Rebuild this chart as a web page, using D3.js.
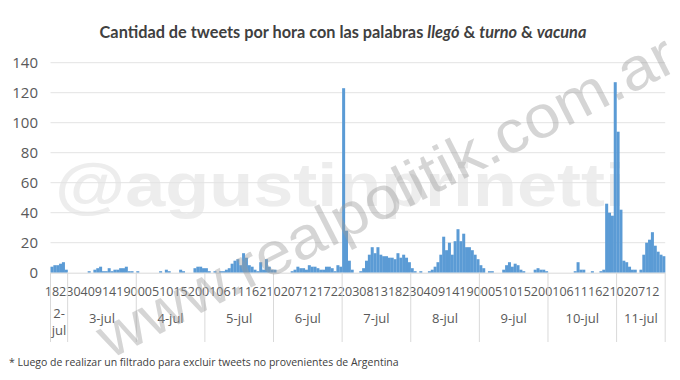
<!DOCTYPE html>
<html>
<head>
<meta charset="utf-8">
<script src="https://cdn.jsdelivr.net/npm/d3@7"></script>
<style>
  html, body { margin: 0; padding: 0; background: #ffffff; }
  svg { display: block; }
</style>
</head>
<body>
<svg id="chart" width="680" height="380"></svg>
<script>
// ---- data (tweets per hour) ----
const dayLabels = ["2-jul","3-jul","4-jul","5-jul","6-jul","7-jul","8-jul","9-jul","10-jul","11-jul"];
const dayFirstHour = [18,0,0,0,0,0,0,0,0,0];
const jul02 = [4,5,5,6,7,2];
const jul03 = [0,0,0,0,0,0,0,1,0,2,3,4,1,1,3,1,2,2,3,3,4,1,1,0];
const jul04 = [1,0,0,0,0,0,0,0,1,0,2,1,0,0,0,2,1,0,0,0,3,4,4,3];
const jul05 = [3,1,0,1,0,1,1,2,3,6,8,9,5,13,10,5,4,2,1,7,2,9,4,2];
const jul06 = [2,0,0,0,0,0,1,2,4,3,3,2,5,4,4,3,2,2,4,4,3,1,5,4];
const jul07 = [123,28,8,2,0,0,1,3,8,12,17,13,17,12,11,11,10,10,9,13,10,12,10,7];
const jul08 = [3,1,0,1,0,0,1,2,4,7,12,24,15,20,12,21,29,21,26,17,17,15,12,9];
const jul09 = [5,3,0,1,1,0,0,0,2,5,7,4,6,5,2,1,0,0,0,2,3,2,2,1];
const jul10 = [0,0,0,0,0,0,0,0,0,1,7,2,2,0,0,1,0,0,1,2,46,40,38,127];
const jul11 = [94,42,8,7,4,2,2,0,2,12,20,22,27,18,14,12,11];
const dayValues = [jul02,jul03,jul04,jul05,jul06,jul07,jul08,jul09,jul10,jul11];
const yTicks = [0,20,40,60,80,100,120,140];
const labelEvery = 5;

const titleParts = [
  {t:"Cantidad de tweets por hora con las palabras ", i:false},
  {t:"llegó", i:true},
  {t:" & ", i:false},
  {t:"turno", i:true},
  {t:" & ", i:false},
  {t:"vacuna", i:true}
];
const footnote = "* Luego de realizar un filtrado para excluir tweets no provenientes de Argentina";

(function () {
// ---- build category table ----
const rows = [];
const dayRanges = [];
dayValues.forEach((vals, d) => {
  const startIdx = rows.length;
  vals.forEach((v, k) => {
    const h = dayFirstHour[d] + k;
    rows.push({key: rows.length, day: d, hour: h, value: v});
  });
  dayRanges.push({label: dayLabels[d], start: startIdx, end: rows.length});
});

const svg = d3.select("#chart");
const pLeft = 50.5, pRight = 665.2, pTop = 62.7, pBottom = 272.7;

const x = d3.scaleBand().domain(rows.map(r => r.key)).range([pLeft, pRight]).padding(0);
const y = d3.scaleLinear().domain([0, 140]).range([pBottom, pTop]);
const step = x.step();
const edge = i => pLeft + i * step;

// watermark (horizontal, behind)
svg.append("text")
  .attr("x", 340).attr("y", 206)
  .attr("text-anchor", "middle")
  .attr("font-family", "Liberation Sans, Arial, sans-serif")
  .attr("font-weight", "bold")
  .attr("font-size", 62)
  .attr("textLength", 570)
  .attr("lengthAdjust", "spacingAndGlyphs")
  .attr("fill", "#ededed")
  .text("@agustinprinetti");

// gridlines
svg.append("g")
  .selectAll("line").data(yTicks.filter(t => t > 0)).join("line")
  .attr("x1", pLeft).attr("x2", pRight)
  .attr("y1", d => y(d)).attr("y2", d => y(d))
  .attr("stroke", "#e3e3e3").attr("stroke-width", 1);

// y axis labels
const yAxis = d3.axisLeft(y).tickValues(yTicks).tickSize(0).tickPadding(0);
const gy = svg.append("g").attr("transform", `translate(38,0)`).call(yAxis);
gy.select(".domain").remove();
gy.selectAll("text")
  .attr("font-family", "Open Sans, sans-serif")
  .attr("font-size", 15)
  .attr("fill", "#595959");

// bars
svg.append("g")
  .selectAll("rect").data(rows).join("rect")
  .attr("x", d => x(d.key))
  .attr("width", x.bandwidth() + 0.15)
  .attr("y", d => y(d.value))
  .attr("height", d => y(0) - y(d.value))
  .attr("fill", "#5b9bd5");

// x axis line
svg.append("line")
  .attr("x1", pLeft).attr("x2", pRight)
  .attr("y1", pBottom + 0.5).attr("y2", pBottom + 0.5)
  .attr("stroke", "#d9d9d9");

// hour labels via d3 axis
const xAxis = d3.axisBottom(x)
  .tickValues(rows.filter(r => r.key % labelEvery === 0).map(r => r.key))
  .tickFormat(k => String(rows[k].hour).padStart(2, "0"))
  .tickSize(0).tickPadding(0);
const gx = svg.append("g").attr("transform", `translate(0,${pBottom + 14})`).call(xAxis);
gx.select(".domain").remove();
gx.selectAll("text")
  .attr("font-family", "Open Sans, sans-serif")
  .attr("font-size", 12.5)
  .attr("fill", "#595959");

// day separators
const seps = dayRanges.map(r => r.start).concat([rows.length]);
svg.append("g")
  .selectAll("line").data(seps).join("line")
  .attr("x1", d => edge(d)).attr("x2", d => edge(d))
  .attr("y1", pBottom).attr("y2", 342)
  .attr("stroke", "#d9d9d9");

// day labels
const gd = svg.append("g")
  .attr("font-family", "Open Sans, sans-serif")
  .attr("font-size", 13)
  .attr("fill", "#595959")
  .attr("text-anchor", "middle");
dayRanges.forEach(r => {
  const cx = (edge(r.start) + edge(r.end)) / 2;
  if (r.end - r.start < 10) {
    const parts = [r.label.split("-")[0] + "-", r.label.split("-")[1]];
    gd.append("text").attr("x", cx).attr("y", 318).text(parts[0]);
    gd.append("text").attr("x", cx).attr("y", 335).text(parts[1]);
  } else {
    gd.append("text").attr("x", cx).attr("y", 323).text(r.label);
  }
});

// title
const tt = svg.append("text")
  .attr("x", 343).attr("y", 38)
  .attr("text-anchor", "middle")
  .attr("font-family", "Lato, sans-serif")
  .attr("font-weight", "bold")
  .attr("font-size", 16.3)
  .attr("fill", "#404040");
titleParts.forEach(p => {
  tt.append("tspan").attr("font-style", p.i ? "italic" : "normal").text(p.t);
});

// footnote
svg.append("text")
  .attr("x", 9).attr("y", 366)
  .attr("font-family", "Open Sans, sans-serif")
  .attr("font-size", 10.5)
  .attr("fill", "#404040")
  .text(footnote);

// watermark (diagonal, on top)
svg.append("text")
  .attr("transform", "translate(388,200) rotate(-27)")
  .attr("text-anchor", "middle")
  .attr("dominant-baseline", "middle")
  .attr("font-family", "Liberation Sans, Arial, sans-serif")
  .attr("font-size", 60)
  .attr("textLength", 640)
  .attr("lengthAdjust", "spacingAndGlyphs")
  .attr("fill", "#9a9a9a")
  .attr("fill-opacity", 0.42)
  .text("www.realpolitik.com.ar");
})();
</script>
</body>
</html>
